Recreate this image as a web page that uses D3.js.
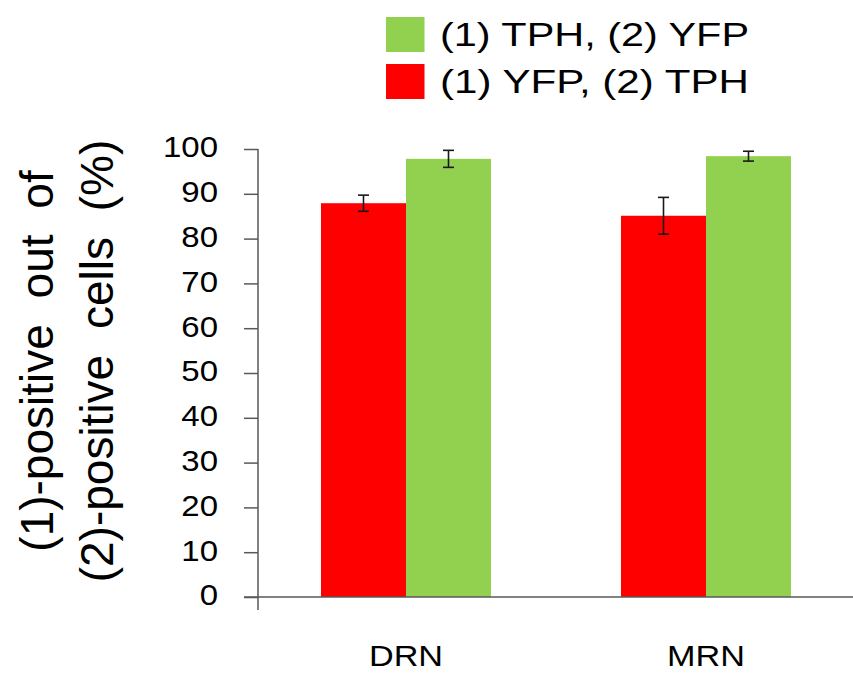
<!DOCTYPE html>
<html>
<head>
<meta charset="utf-8">
<script src="https://cdn.jsdelivr.net/npm/d3@7"></script>
<style>
  html, body { margin: 0; padding: 0; background: #fff; }
  svg { display: block; font-family: "Liberation Sans", Arial, sans-serif; }
</style>
</head>
<body>
<svg id="chart" width="853" height="675"></svg>
<script>
// Regions and the two double-labelling comparisons
const categories = ["DRN", "MRN"];
const seriesKeys = ["yfpTph", "tphYfp"];
const seriesLabels = ["(1) YFP, (2) TPH", "(1) TPH, (2) YFP"];
const seriesColors = ["#FF0000", "#92D050"];

// Percent of (2)-positive cells that are also (1)-positive, with error
const yfpTphValues = [87.9, 85.1];
const yfpTphErrors = [1.8, 4.1];
const tphYfpValues = [97.8, 98.4];
const tphYfpErrors = [1.9, 1.1];

const yTicks = [0, 10, 20, 30, 40, 50, 60, 70, 80, 90, 100];
const yTitleLines = ["(1)-positive out of", "(2)-positive cells (%)"];
const legendOrder = [1, 0]; // green entry listed first

const rows = categories.map((c, i) => ({
  category: c,
  yfpTph: { value: yfpTphValues[i], error: yfpTphErrors[i] },
  tphYfp: { value: tphYfpValues[i], error: tphYfpErrors[i] }
}));

const svg = d3.select("#chart");
const axisColor = "#595959";

// Widen text along its run to a given factor or length
function fit(sel, k, len) {
  sel.each(function () {
    const w = len != null ? len : this.getComputedTextLength() * k;
    d3.select(this).attr("textLength", w).attr("lengthAdjust", "spacingAndGlyphs");
  });
}

const y = d3.scaleLinear().domain([0, 100]).range([597, 149]);
const x0 = d3.scaleBand().domain(categories).range([256, 856])
  .paddingInner(130 / 300).paddingOuter(65 / 300);
const x1 = d3.scaleBand().domain(seriesKeys).range([0, x0.bandwidth()]);
const color = d3.scaleOrdinal().domain(seriesKeys).range(seriesColors);

const axisX = 258;

// Bars
const groups = svg.append("g").selectAll("g").data(rows).join("g")
  .attr("transform", d => `translate(${x0(d.category)},0)`);

groups.selectAll("rect")
  .data(d => seriesKeys.map(k => ({ key: k, ...d[k] })))
  .join("rect")
  .attr("x", d => x1(d.key))
  .attr("width", x1.bandwidth())
  .attr("y", d => y(d.value))
  .attr("height", d => y(0) - y(d.value))
  .attr("fill", d => color(d.key));

// Error bars
const capW = 11;
const eb = groups.selectAll("g.err")
  .data(d => seriesKeys.map(k => ({ key: k, ...d[k] })))
  .join("g").attr("class", "err")
  .attr("stroke", "#1a1a1a").attr("stroke-width", 1.6);
eb.append("line")
  .attr("x1", d => x1(d.key) + x1.bandwidth() / 2)
  .attr("x2", d => x1(d.key) + x1.bandwidth() / 2)
  .attr("y1", d => y(d.value + d.error))
  .attr("y2", d => y(d.value - d.error));
eb.append("line")
  .attr("x1", d => x1(d.key) + x1.bandwidth() / 2 - capW / 2)
  .attr("x2", d => x1(d.key) + x1.bandwidth() / 2 + capW / 2)
  .attr("y1", d => y(d.value + d.error))
  .attr("y2", d => y(d.value + d.error));
eb.append("line")
  .attr("x1", d => x1(d.key) + x1.bandwidth() / 2 - capW / 2)
  .attr("x2", d => x1(d.key) + x1.bandwidth() / 2 + capW / 2)
  .attr("y1", d => y(d.value - d.error))
  .attr("y2", d => y(d.value - d.error));

// Y axis
const yAxis = svg.append("g")
  .attr("transform", `translate(${axisX},0)`)
  .call(d3.axisLeft(y).tickValues(yTicks).tickSize(14).tickSizeOuter(0).tickPadding(26));
yAxis.select(".domain").remove();
yAxis.selectAll(".tick line").attr("stroke", axisColor).attr("stroke-width", 1.5);
yAxis.selectAll(".tick text")
  .attr("font-size", 30).attr("fill", "#000")
  .attr("font-family", "\"Liberation Sans\", Arial, sans-serif")
  .attr("dy", "0.26em")
  .call(fit, 1.1);

// Axis lines
svg.append("line")
  .attr("x1", axisX).attr("x2", axisX)
  .attr("y1", y(100)).attr("y2", y(0) + 13)
  .attr("stroke", axisColor).attr("stroke-width", 1.5);
svg.append("line")
  .attr("x1", axisX - 14).attr("x2", 853)
  .attr("y1", y(0)).attr("y2", y(0))
  .attr("stroke", axisColor).attr("stroke-width", 1.5);

// Category labels
svg.append("g").selectAll("text").data(categories).join("text")
  .attr("x", d => x0(d) + x0.bandwidth() / 2)
  .attr("y", 666)
  .attr("text-anchor", "middle")
  .attr("font-size", 30)
  .attr("fill", "#000")
  .text(d => d)
  .call(fit, 1.14);

// Y axis title (two rotated lines, wide word gaps)
const titleBaselines = [53, 113];
svg.append("g").selectAll("text").data(yTitleLines).join("text")
  .attr("transform", (d, i) => `translate(${titleBaselines[i]},361) rotate(-90)`)
  .attr("text-anchor", "middle")
  .attr("font-size", 46)
  .attr("word-spacing", 13)
  .attr("fill", "#000")
  .text(d => d);

// Legend
const legend = svg.append("g").attr("transform", "translate(386,17)");
const items = legend.selectAll("g").data(legendOrder).join("g")
  .attr("transform", (d, i) => `translate(0,${i * 47})`);
items.append("rect")
  .attr("width", 38.5).attr("height", 35)
  .attr("fill", d => seriesColors[d]);
items.append("text")
  .attr("x", 54).attr("y", 28.5)
  .attr("font-size", 33)
  .attr("fill", "#000")
  .text(d => seriesLabels[d])
  .call(fit, null, 309);
</script>
</body>
</html>
